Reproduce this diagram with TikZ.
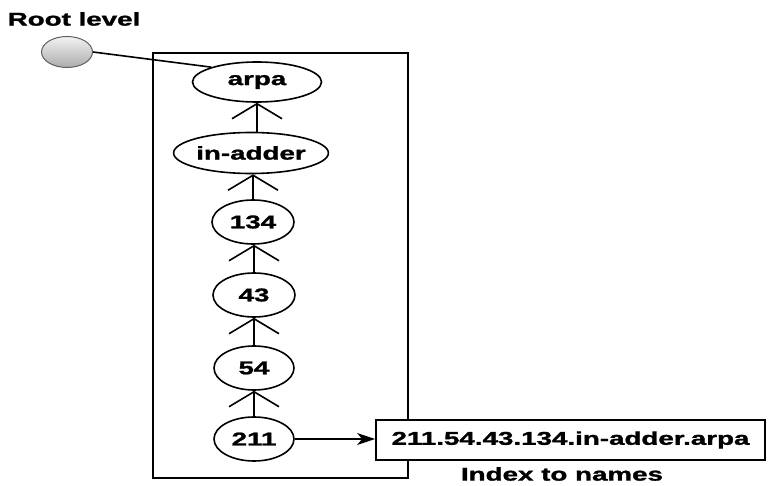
\documentclass[tikz,border=0pt]{standalone}
\usepackage{fontspec}
\setmainfont{Liberation Sans}[BoldFeatures={FakeBold=1.2}]
\usetikzlibrary{shapes.geometric,arrows.meta}
\newcommand\wlbl[1]{\scalebox{1.5}[1]{\bfseries #1}}
\tikzset{
  txt/.style={font=\fontsize{18.5}{20}\selectfont, inner sep=0pt},
  nd/.style={ellipse, draw, line width=1.6pt, inner sep=0pt, fill=white, txt},
  uparr/.style={line width=1.6pt, -{Straight Barb[length=15pt,width=50pt]}},
  rarr/.style={line width=1.6pt, -{Stealth[length=18pt,width=12pt,inset=5pt]}},
  frame/.style={draw, line width=2pt, inner sep=0pt},
  resbox/.style={draw, line width=1.8pt, fill=white, inner sep=0pt, txt},
}
\begin{document}
\begin{tikzpicture}[x=1pt,y=-1pt]
\useasboundingbox (0,0) rectangle (768,486);
\node[frame, minimum width=255pt, minimum height=425pt] (frm) at (280.5,265.5) {};
\node[txt] (rootlbl) at (74,19) {\wlbl{Root level}};
\node[ellipse, draw=gray!75!black, line width=1pt, top color=white!90!gray, bottom color=gray!65,
      minimum width=51pt, minimum height=31pt, inner sep=0pt] (root) at (67,52) {};
\node[nd, minimum width=129pt, minimum height=40pt] (arpa) at (257,82) {\wlbl{arpa}};
\node[nd, minimum width=116pt, minimum height=41pt] (inadder) at (251,153) {\wlbl{in-adder}};
\node[nd, minimum width=82pt, minimum height=44pt] (n134) at (253,222) {\wlbl{134}};
\node[nd, minimum width=82pt, minimum height=44pt] (n43) at (254,295) {\wlbl{43}};
\node[nd, minimum width=80pt, minimum height=44pt] (n54) at (254,368) {\wlbl{54}};
\node[nd, minimum width=80pt, minimum height=44pt] (n211) at (254,439) {\wlbl{211}};
\node[resbox, minimum width=389pt, minimum height=40pt] (res) at (570.5,440) {\wlbl{211.54.43.134.in-adder.arpa}};
\node[txt] (idx) at (562,474) {\wlbl{Index to names}};
\draw[line width=1.6pt] (root.east) -- (arpa.162);
\draw[uparr] (inadder.north -| arpa.south) -- (arpa.south);
\draw[uparr] (n134.north) -- (inadder.south -| n134.north);
\draw[uparr] (n43.north) -- (n134.south -| n43.north);
\draw[uparr] (n54.north) -- (n43.south);
\draw[uparr] (n211.north) -- (n54.south);
\draw[rarr] (n211.east) -- (res.west |- n211.east);
\end{tikzpicture}
\end{document}
